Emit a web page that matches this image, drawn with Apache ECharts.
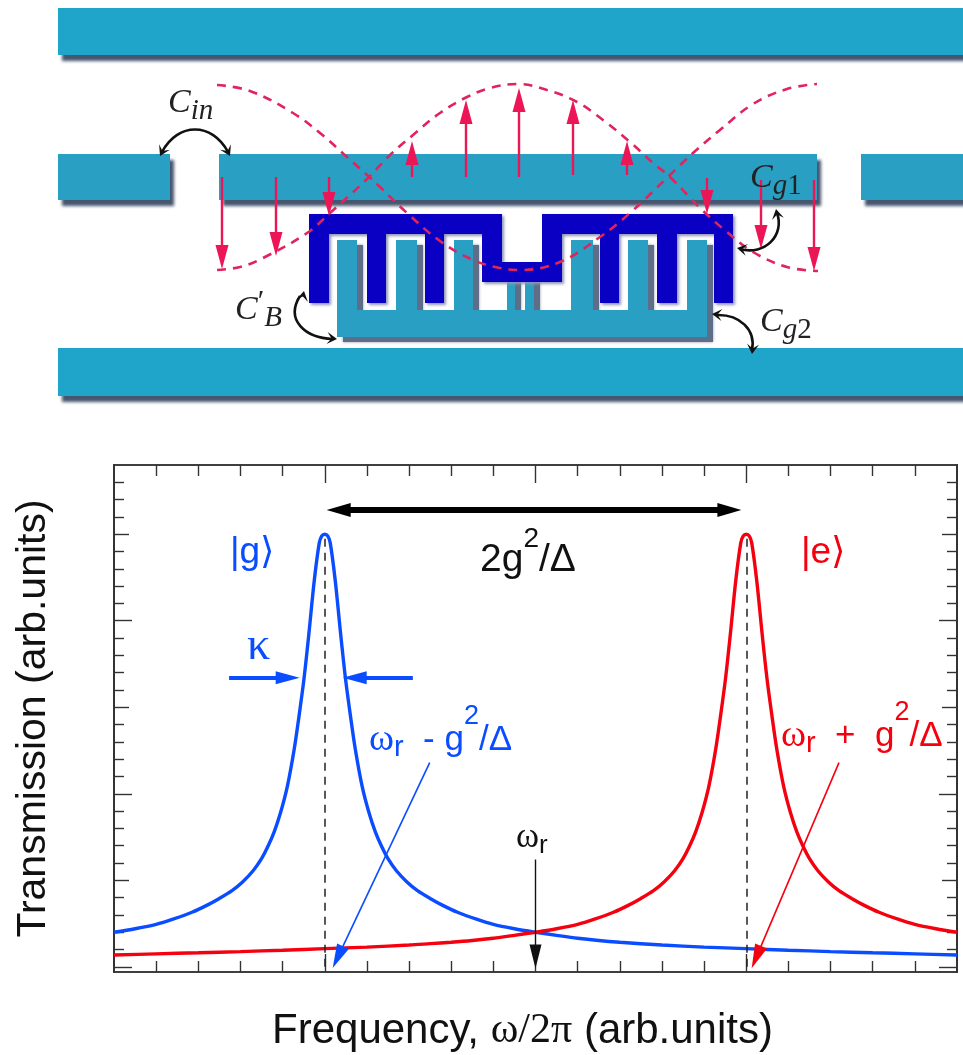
<!DOCTYPE html>
<html><head><meta charset="utf-8">
<style>html,body{margin:0;padding:0;background:#fff}#c{width:963px;height:1055px}</style>
<script src="https://cdn.jsdelivr.net/npm/echarts@6/dist/echarts.min.js"></script>
</head><body><div id="c"></div>
<script>
// ---- Transmission curves (x: tick units, y: tick units)
const freqBlue=[0,0.5,1,1.4,1.85,2.2,2.5,2.8,3.05,3.3,3.5,3.65,3.8,3.95,4.11,4.27,4.39,4.51,4.63,4.75,4.87,4.93,5,5.07,5.13,5.25,5.37,5.49,5.61,5.73,5.89,6.05,6.2,6.35,6.5,6.7,6.95,7.2,7.5,7.8,8.15,8.6,9,9.5,10,10.5,11,11.5,12,13,14,15,16,17,18,19,20];
const transBlue=[2.0,2.2,2.45,2.75,3.15,3.55,3.95,4.4,4.9,5.55,6.25,6.95,7.8,8.9,10.4,12.5,14.5,16.7,19.4,22.3,24.5,24.9,25,24.9,24.5,22.3,19.4,16.7,14.5,12.5,10.4,8.9,7.8,6.95,6.25,5.55,4.9,4.4,3.95,3.55,3.15,2.75,2.45,2.2,2.0,1.82,1.65,1.52,1.42,1.26,1.14,1.05,0.96,0.88,0.81,0.75,0.68];
const freqRed=[0,1,2,3,4,5,6,7,7.5,8,8.5,9,9.5,10,10.5,11,11.4,11.85,12.2,12.5,12.8,13.05,13.3,13.5,13.65,13.8,13.95,14.11,14.27,14.39,14.51,14.63,14.75,14.87,14.93,15,15.07,15.13,15.25,15.37,15.49,15.61,15.73,15.89,16.05,16.2,16.35,16.5,16.7,16.95,17.2,17.5,17.8,18.15,18.6,19,19.5,20];
const transRed=[0.68,0.75,0.81,0.88,0.96,1.05,1.14,1.26,1.34,1.42,1.52,1.65,1.82,2.0,2.2,2.45,2.75,3.15,3.55,3.95,4.4,4.9,5.55,6.25,6.95,7.8,8.9,10.4,12.5,14.5,16.7,19.4,22.3,24.5,24.9,25,24.9,24.5,22.3,19.4,16.7,14.5,12.5,10.4,8.9,7.8,6.95,6.25,5.55,4.9,4.4,3.95,3.55,3.15,2.75,2.45,2.2,2.0];
// ---- Tick positions
const xMajorTicks=[5,10,15];
const xMinorTicks=[1,2,3,4,6,7,8,9,11,12,13,14,16,17,18,19];
const yLongTicks=[0,10,20];
const yMidTicks=[5,15,25];
const yMinorTicks=[1,2,3,4,6,7,8,9,11,12,13,14,16,17,18,19,21,22,23,24,26,27,28];
// ---- Schematic standing waves (hidden pixel-like scale)
const waveAX=[217,250,293,320,347,367,380,407,440,473,500,520,560,600,630,670,693,720,753,787,817];
const waveAY=[85,91,113,133,157,175,187,213,241,260,268,270,262,237,213,175,153,130,104,89,84];
const waveBX=[217,240,263,307,330,367,390,413,440,467,490,518,547,577,603,630,653,670,700,727,753,787,818];
const waveBY=[270,267,258,233,213,179,155,135,113,97,88,84,90,102,120,142,163,177,208,232,252,267,271];

const BLUE='#0a4cff', RED='#f5000f', PINK='#e0245e', TEAL='#1fa5c9', TEAL2='#2a9fc4', NAVY='#0a00c4', SHADOW='#46566f';
const SANS='"Liberation Sans"', SERIF='"Liberation Serif"';

function axisCommon(pos,vals,len){const isY=pos==='left'||pos==='right';return {type:'value',position:pos,min:isY?-0.3:0,max:isY?29:20,gridIndex:0,
  axisLine:{show:true,onZero:false,lineStyle:{color:'#333',width:1.6}},
  axisTick:{show:true,inside:true,length:len,customValues:vals,lineStyle:{color:'#333',width:1.4}},
  axisLabel:{show:false},splitLine:{show:false},minorTick:{show:false}};}
const xAxes=[axisCommon('bottom',xMajorTicks,18),axisCommon('bottom',xMinorTicks,11),axisCommon('top',xMajorTicks,18),axisCommon('top',xMinorTicks,11)];
xAxes[0].name='{a|Frequency, }{b|ω/2π}{a| (arb.units)}';xAxes[0].nameLocation='middle';xAxes[0].nameGap=38;
xAxes[0].nameTextStyle={padding:[0,26,0,0],rich:{a:{fontFamily:SANS,fontSize:42,color:'#111'},b:{fontFamily:SERIF,fontSize:42,color:'#111'}}};
const yAxes=[axisCommon('left',yLongTicks,18),axisCommon('left',yMidTicks,15),axisCommon('left',yMinorTicks,10),axisCommon('right',yLongTicks,18),axisCommon('right',yMidTicks,15),axisCommon('right',yMinorTicks,10)];
yAxes[0].name='Transmission (arb.units)';yAxes[0].nameLocation='middle';yAxes[0].nameGap=60;
yAxes[0].nameTextStyle={fontFamily:SANS,fontSize:41,color:'#111'};
// hidden pixel-like axes for the schematic wave
xAxes.push({type:'value',gridIndex:1,min:0,max:963,show:false});
yAxes.push({type:'value',gridIndex:1,min:0,max:410,inverse:true,show:false});

function zip(a,b){return a.map((v,i)=>[v,b[i]]);}

function rect(x0,y0,x1,y1,fill){return {type:'rect',z:1,shape:{x:x0,y:y0,width:x1-x0,height:y1-y0},
  style:{fill:fill,shadowColor:SHADOW,shadowBlur:3,shadowOffsetX:4,shadowOffsetY:6}};}
function curve(p){return {type:'bezierCurve',z:6,shape:{x1:p[0],y1:p[1],cpx1:p[2],cpy1:p[3],cpx2:p[4],cpy2:p[5],x2:p[6],y2:p[7]},style:{stroke:'#111',lineWidth:2.6,fill:null}};}
function head(x,y,dx,dy){const L=10,W=6,m=Math.hypot(dx,dy);dx/=m;dy/=m;
  return {type:'polygon',z:6,shape:{points:[[x,y],[x-L*dx-W*dy,y-L*dy+W*dx],[x-L*0.55*dx,y-L*0.55*dy],[x-L*dx+W*dy,y-L*dy-W*dx]]},style:{fill:'#111'}};}
function txt(x,y,t,rich,extra){return Object.assign({type:'text',z:7,x:x,y:y,style:{text:t,rich:rich,verticalAlign:'middle',align:'left'}},extra||{});}

const capRich={c:{fontFamily:SERIF,fontStyle:'italic',fontSize:34,fill:'#222',lineHeight:46,verticalAlign:'middle'},
  s:{fontFamily:SERIF,fontStyle:'italic',fontSize:29,fill:'#222',verticalAlign:'bottom'},
  d:{fontFamily:SERIF,fontSize:29,fill:'#222',verticalAlign:'bottom'},
  p:{fontFamily:SERIF,fontSize:30,fill:'#222',verticalAlign:'top'}};
function mathRich(col,size){const L=74,sub=size-6,sup=size-8;return {w:{fontFamily:SERIF,fontSize:size+3,fill:col,lineHeight:L,verticalAlign:'middle'},
  a:{fontFamily:SANS,fontSize:size,fill:col,lineHeight:L,verticalAlign:'middle'},
  r:{fontFamily:SANS,fontSize:sub,fill:col,verticalAlign:'bottom',padding:[0,0,L/2-sub/2-8,0]},
  u:{fontFamily:SANS,fontSize:sup,fill:col,verticalAlign:'top'}};}

const combTeal=[[337,337],[337,240],[357,240],[357,310],[396,310],[396,240],[417,240],[417,310],[454,310],[454,240],[473,240],[473,310],[507,310],[507,270],[515,270],[515,310],[525,310],[525,270],[534,270],[534,310],[571,310],[571,240],[593,240],[593,310],[628,310],[628,240],[648,240],[648,310],[687,310],[687,240],[707,240],[707,337]];
const graphics=[
  rect(58,8,963,55,TEAL),
  rect(58,154,170,200,TEAL2),
  rect(219,154,817,200,TEAL2),
  rect(861,154,963,200,TEAL2),
  rect(58,348,963,396,TEAL),
  {type:'polygon',z:2,x:6,y:5,shape:{points:combTeal},style:{fill:'#5f6e88',shadowColor:'#8a93a8',shadowBlur:3}},
  {type:'polygon',z:2,shape:{points:combTeal},style:{fill:TEAL2}},
  {type:'polygon',z:3,shape:{points:[[309,214],[502,214],[502,262],[542,262],[542,214],[733,214],[733,303],[714,303],[714,234],[677,234],[677,303],[657,303],[657,234],[619,234],[619,303],[600,303],[600,234],[562,234],[562,282],[482,282],[482,234],[444,234],[444,303],[425,303],[425,234],[386,234],[386,303],[367,303],[367,234],[329,234],[329,303],[309,303]]},
    style:{fill:NAVY,shadowColor:'#8f97b5',shadowBlur:3,shadowOffsetX:2,shadowOffsetY:2}},
  curve([162,152,178,122,212,122,228,152]), head(160,156,-0.5,1), head(230,156,0.5,1),
  curve([300,296,285,320,305,338,333,339]), head(304,291,0.2,-1), head(337,339,1,0.1),
  curve([777,213,785,235,765,256,740,249]), head(776,209,-0.2,-1), head(737,248,-1,-0.2),
  curve([716,315,740,314,756,330,752,350]), head(712,314,-1,-0.1), head(752,354,-0.1,1),
  txt(168,103,'{c|C}{s|in}',capRich),
  txt(750,178,'{c|C}{s|g}{d|1}',capRich),
  txt(760,322,'{c|C}{s|g}{d|2}',capRich),
  txt(235,310,'{c|C}{p|′}{s|B}',capRich),
  txt(230,553,'|g⟩',null,{style:{text:'|g⟩',font:'37px '+SANS,fill:BLUE,verticalAlign:'middle'}}),
  txt(801,553,'|e⟩',null,{style:{text:'|e⟩',font:'37px '+SANS,fill:RED,verticalAlign:'middle'}}),
  txt(247,647,'κ',null,{style:{text:'κ',font:'46px '+SERIF,fill:BLUE,verticalAlign:'middle'}}),
  txt(480,560,'{a|2g}{u|2}{a|/Δ}',{a:{fontFamily:SANS,fontSize:39,fill:'#111',lineHeight:70,verticalAlign:'middle'},u:{fontFamily:SANS,fontSize:28,fill:'#111',verticalAlign:'top'}}),
  txt(369,740,'{w|ω}{r|r}{a|  - g}{u|2}{a|/Δ}',mathRich(BLUE,35)),
  txt(781,736,'{w|ω}{r|r}{a|  +  g}{u|2}{a|/Δ}',mathRich(RED,35)),
  txt(516,838,'{w|ω}{r|r}',mathRich('#111',32))
];

function ml(color,width,size,data,dash,sym){return {silent:true,animation:false,symbol:sym||['none','triangle'],symbolSize:size,label:{show:false},emphasis:{disabled:true},
  lineStyle:{color:color,width:width,type:dash||'solid',opacity:1},itemStyle:{color:color},data:data};}
const seg=(a,b,c,d)=>[{coord:[a,b]},{coord:[c,d]}];

const option={animation:false,backgroundColor:'#fff',
 grid:[{left:114,right:6,top:465,bottom:83,outerBoundsMode:'none'},{left:0,right:0,top:0,height:410,outerBoundsMode:'none'}],
 xAxis:xAxes,yAxis:yAxes,graphic:{elements:graphics},
 series:[
  {type:'line',name:'|g⟩',data:zip(freqBlue,transBlue),xAxisIndex:0,yAxisIndex:0,showSymbol:false,smooth:0.3,z:4,lineStyle:{color:BLUE,width:3.4},
   markLine:ml(BLUE,4,[13,24],[seg(2.73,16.7,4.12,16.7),seg(7.09,16.7,5.71,16.7)])},
  {type:'line',name:'|e⟩',data:zip(freqRed,transRed),xAxisIndex:0,yAxisIndex:0,showSymbol:false,smooth:0.3,z:4,lineStyle:{color:RED,width:3.4},
   markLine:ml(RED,1.6,[13,24],[seg(17.2,11.8,15.24,0.56)])},
  {type:'line',name:'blue arrow',data:[],xAxisIndex:0,yAxisIndex:0,z:6,
   markLine:ml(BLUE,1.6,[13,24],[seg(7.49,11.8,5.31,0.56)])},
  {type:'line',name:'splitting',data:[],xAxisIndex:0,yAxisIndex:0,z:5,
   markLine:ml('#000',6,[14,24],[seg(5.33,26.4,14.6,26.4)],null,['triangle','triangle'])},
  {type:'line',name:'dash',data:[],xAxisIndex:0,yAxisIndex:0,z:3,
   markLine:ml('#222',1.5,0,[seg(5,0,5,25),seg(15,0,15,25)],[8,6],['none','none'])},
  {type:'line',name:'wr',data:[],xAxisIndex:0,yAxisIndex:0,z:5,
   markLine:ml('#111',1.4,[12,24],[seg(10,6.2,10,0.6)])},
  {type:'line',name:'wave A',data:zip(waveAX,waveAY),xAxisIndex:4,yAxisIndex:6,showSymbol:false,smooth:0.4,z:5,lineStyle:{color:PINK,width:2.6,type:[9,7]}},
  {type:'line',name:'wave B',data:zip(waveBX,waveBY),xAxisIndex:4,yAxisIndex:6,showSymbol:false,smooth:0.4,z:5,lineStyle:{color:PINK,width:2.6,type:[9,7]},
   markLine:ml('#ec1657',2.4,[13,24],[seg(222,177,222,257),seg(276,177,276,244),seg(329,177,329,204),seg(412,177,412,153),seg(466,177,466,112),seg(519,177,519,100),seg(573,175,573,112),seg(627,175,627,153),seg(707,178,707,202),seg(761,180,761,237),seg(814,180,814,259)])}
 ]};
const chart=echarts.init(document.getElementById('c'),null,{renderer:'canvas'});
chart.setOption(option);
</script></body></html>
